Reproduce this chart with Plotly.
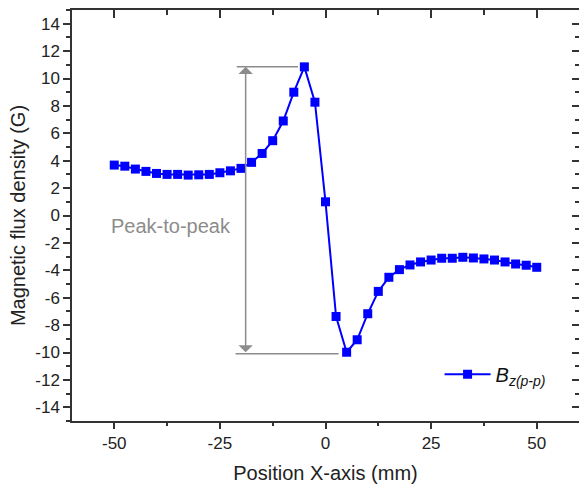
import plotly.graph_objects as go

# Data
positions = [-50, -47.5, -45, -42.5, -40, -37.5, -35, -32.5, -30, -27.5, -25, -22.5, -20,
             -17.5, -15, -12.5, -10, -7.5, -5, -2.5, 0, 2.5, 5, 7.5, 10, 12.5, 15, 17.5,
             20, 22.5, 25, 27.5, 30, 32.5, 35, 37.5, 40, 42.5, 45, 47.5, 50]
bz_pp = [3.68, 3.6, 3.39, 3.22, 3.07, 3.0, 3.0, 2.95, 2.97, 3.0, 3.12, 3.26, 3.44,
         3.88, 4.53, 5.46, 6.9, 9.0, 10.85, 8.27, 1.0, -7.37, -9.98, -9.07, -7.17, -5.54,
         -4.51, -3.95, -3.61, -3.39, -3.25, -3.12, -3.12, -3.05, -3.1, -3.17, -3.25, -3.39,
         -3.54, -3.63, -3.78]
x_ticks = [-50, -25, 0, 25, 50]
x_ticktext = ["-50", "-25", "0", "25", "50"]
y_ticks = list(range(-14, 15, 2))
y_ticktext = [str(v) for v in y_ticks]

# annotation geometry (data units)
peak_val = 10.85
valley_val = -10.1
top_line_x = [-21, -6.5]
bot_line_x = [-21.3, 3.1]
arrow_x = -18.9

FONT = "Liberation Sans, Arial, sans-serif"
GRAY = "#8c8c8c"

fig = go.Figure()
fig.add_trace(go.Scatter(
    x=positions, y=bz_pp, mode="lines+markers",
    line=dict(color="#0000ff", width=2),
    marker=dict(symbol="square", size=9, color="#0000ff"),
    name="<i>B</i><sub><i>z(p-p)</i></sub>",
))
fig.add_trace(go.Scatter(x=[None], y=[None], xaxis="x2", yaxis="y2", showlegend=False))

fig.add_shape(type="line", x0=top_line_x[0], x1=top_line_x[1], y0=peak_val, y1=peak_val,
              line=dict(color=GRAY, width=1.5))
fig.add_shape(type="line", x0=bot_line_x[0], x1=bot_line_x[1], y0=valley_val, y1=valley_val,
              line=dict(color=GRAY, width=1.5))
fig.add_annotation(x=arrow_x, y=peak_val, ax=arrow_x, ay=valley_val, axref="x", ayref="y",
                   xref="x", yref="y", showarrow=True, arrowside="end+start", arrowhead=1,
                   arrowsize=1.6, arrowwidth=1.5, arrowcolor=GRAY, text="")
fig.add_annotation(x=-51.3, y=-0.8, xref="x", yref="y", text="Peak-to-peak", showarrow=False,
                   xanchor="left", yanchor="middle", font=dict(family=FONT, size=20, color=GRAY))

axis_common = dict(showgrid=False, zeroline=False, linecolor="#333333", linewidth=1.5,
                   tickcolor="#333333", tickwidth=1.5)

fig.update_layout(
    width=579, height=486,
    margin=dict(l=72, r=0, t=10, b=65),
    paper_bgcolor="white", plot_bgcolor="white",
    font=dict(family=FONT, color="#222222"),
    showlegend=True,
    legend=dict(x=0.725, y=0.114, xanchor="left", yanchor="middle", itemwidth=46,
                bgcolor="rgba(0,0,0,0)", font=dict(family=FONT, size=20, color="#111111")),
    xaxis=dict(range=[-60, 60], tickvals=x_ticks, ticktext=x_ticktext, ticks="outside", ticklen=6,
               minor=dict(dtick=12.5, tick0=0, ticks="outside", ticklen=3, tickcolor="#333333", tickwidth=1.5),
               showline=True, tickfont=dict(size=17),
               title=dict(text="Position X-axis (mm)", font=dict(size=20), standoff=14),
               **axis_common),
    yaxis=dict(range=[-15, 15], tickvals=y_ticks, ticktext=y_ticktext, ticks="outside", ticklen=7,
               minor=dict(dtick=1, tick0=0, ticks="outside", ticklen=4, tickcolor="#333333", tickwidth=1.5),
               showline=True, tickfont=dict(size=17),
               title=dict(text="Magnetic flux density (G)", font=dict(size=20), standoff=4),
               **axis_common),
    xaxis2=dict(range=[-60, 60], overlaying="x", side="top", anchor="y2", tickvals=x_ticks,
                ticks="inside", ticklen=8, showticklabels=False, showline=True,
                minor=dict(dtick=12.5, tick0=0, ticks="inside", ticklen=5, tickcolor="#333333", tickwidth=1.5),
                **axis_common),
    yaxis2=dict(range=[-15, 15], overlaying="y", side="right", anchor="x2", tickvals=y_ticks,
                ticks="inside", ticklen=7, showticklabels=False, showline=False,
                minor=dict(dtick=1, tick0=0, ticks="inside", ticklen=4, tickcolor="#333333", tickwidth=1.5),
                **axis_common),
)

fig.write_html("out.html")
